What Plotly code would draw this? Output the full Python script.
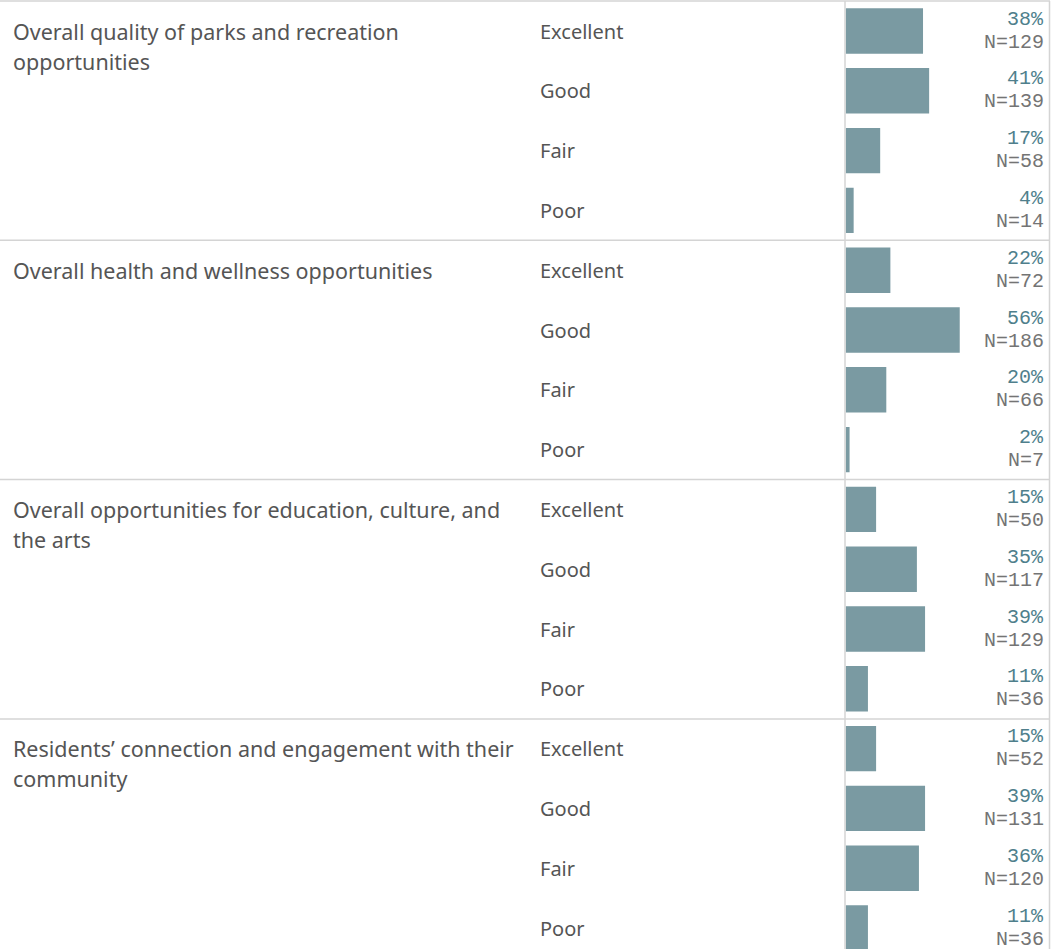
import plotly.graph_objects as go

W, H = 1064, 949

categories = [
    "Overall quality of parks and recreation<br>opportunities",
    "Overall health and wellness opportunities",
    "Overall opportunities for education, culture, and<br>the arts",
    "Residents\u2019 connection and engagement with their<br>community",
]
ratings = ["Excellent", "Good", "Fair", "Poor"]
pct = [
    [38, 41, 17, 4],
    [22, 56, 20, 2],
    [15, 35, 39, 11],
    [15, 39, 36, 11],
]
counts = [
    [129, 139, 58, 14],
    [72, 186, 66, 7],
    [50, 117, 129, 36],
    [52, 131, 120, 36],
]

BAR = "#7a9aa2"
PCT_COL = "#4f7f8c"
N_COL = "#747474"
LABEL_COL = "#555555"
GRID = "#d4d4d4"
LABEL_FONT = "Noto Sans"
MONO = "Liberation Mono"

row_h = 59.8
first_c = 31.0

def px_to_row(p):
    return (p - first_c) / row_h

rows, vals = [], []
for g in range(4):
    for r in range(4):
        rows.append(g * 4 + r)
        vals.append(pct[g][r])

fig = go.Figure()
fig.add_trace(go.Bar(
    x=vals, y=rows, orientation="h", width=0.76,
    marker=dict(color=BAR, line=dict(width=0)),
    hoverinfo="skip",
))

x0_px, x1_px = 845.5, 1049
px_per_pct = 2.04
fig.update_layout(
    width=W, height=H,
    margin=dict(l=0, r=0, t=0, b=0),
    plot_bgcolor="white", paper_bgcolor="white",
    showlegend=False,
    xaxis=dict(domain=[x0_px / W, x1_px / W], range=[0, (x1_px - x0_px) / px_per_pct],
               visible=False, fixedrange=True),
    yaxis=dict(domain=[0, 1], range=[px_to_row(H), px_to_row(0)],
               visible=False, fixedrange=True),
)

ann = []
for g in range(4):
    # wrapped category title, one annotation per line for even 30px leading
    for li, line in enumerate(categories[g].split("<br>")):
        ann.append(dict(
            text=line, xref="paper", yref="y", x=11 / W, y=g * 4,
            xanchor="left", yanchor="middle", yshift=-30 * li, showarrow=False,
            font=dict(family=LABEL_FONT, size=21.5, color=LABEL_COL),
        ))
    for r in range(4):
        row = g * 4 + r
        ann.append(dict(
            text=ratings[r], xref="paper", yref="y", x=538 / W, y=row,
            xanchor="left", yanchor="middle", showarrow=False,
            font=dict(family=LABEL_FONT, size=20, color=LABEL_COL),
        ))
        ann.append(dict(
            text=f"{pct[g][r]}%", xref="paper", yref="y", x=1046 / W, y=row,
            xanchor="right", yanchor="middle", yshift=12, showarrow=False,
            font=dict(family=MONO, size=20, color=PCT_COL),
        ))
        ann.append(dict(
            text=f"N={counts[g][r]}", xref="paper", yref="y", x=1046 / W, y=row,
            xanchor="right", yanchor="middle", yshift=-11, showarrow=False,
            font=dict(family=MONO, size=20, color=N_COL),
        ))
fig.update_layout(annotations=ann)

shapes = []
for g in range(4):
    yp = 1 + g * 239.3
    shapes.append(dict(type="line", xref="paper", yref="paper",
                       x0=0, x1=1050 / W, y0=1 - yp / H, y1=1 - yp / H,
                       line=dict(color=GRID, width=1.5)))
for xp in (845, 1049.5):
    shapes.append(dict(type="line", xref="paper", yref="paper",
                       x0=xp / W, x1=xp / W, y0=0, y1=1 - 1 / H,
                       line=dict(color=GRID, width=1.5)))
fig.update_layout(shapes=shapes)

fig.write_html("out.html")
